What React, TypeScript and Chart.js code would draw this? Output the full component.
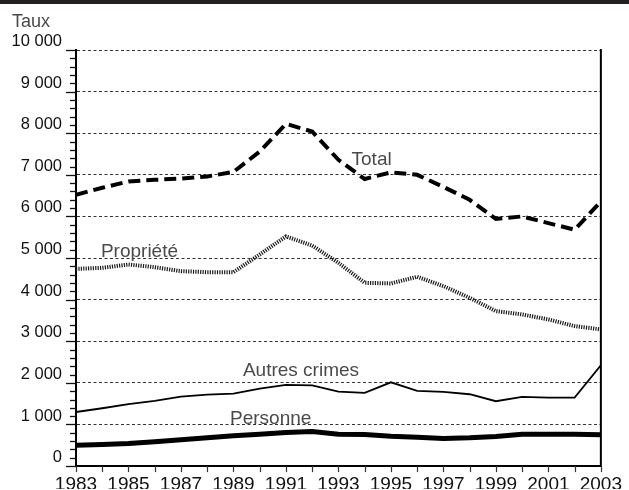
import React, { useEffect, useRef } from "react";
import { Chart, registerables } from "chart.js";

Chart.register(...registerables);

// ---------- data ----------
const years = [1983, 1984, 1985, 1986, 1987, 1988, 1989, 1990, 1991, 1992, 1993, 1994, 1995, 1996, 1997, 1998, 1999, 2000, 2001, 2002, 2003];
const totalValues = [6520, 6690, 6840, 6880, 6910, 6960, 7070, 7560, 8225, 8040, 7360, 6900, 7060, 7000, 6710, 6400, 5940, 6000, 5840, 5680, 6360];
const proprieteValues = [4740, 4765, 4845, 4780, 4685, 4660, 4660, 5085, 5520, 5300, 4885, 4405, 4390, 4550, 4325, 4045, 3725, 3645, 3525, 3365, 3285];
const autresValues = [1300, 1390, 1487, 1566, 1671, 1719, 1743, 1863, 1950, 1942, 1791, 1759, 2014, 1807, 1783, 1727, 1559, 1663, 1647, 1647, 2422];
const personneValues = [504, 520, 544, 585, 631, 680, 727, 765, 808, 832, 767, 760, 719, 695, 664, 679, 712, 767, 767, 767, 751];

const seriesNames = ["Total", "Propriété", "Autres crimes", "Personne"];
const labelYears = [1993.5, 1983.95, 1989.36, 1988.87];
const labelValues = [7242, 5036, 2165, 1007];

const axisTitle = "Taux";
const yMin = 0;
const yMax = 10000;
const yMajorStep = 1000;
const yMinorStep = 200;
const xLabelStep = 2;

function formatRate(v: number): string {
  if (v < 1000) return String(v);
  const th = Math.floor(v / 1000);
  const rest = String(v % 1000).padStart(3, "0");
  return th + " " + rest;
}

const toPoints = (vals: number[]) => years.map((yr, i) => ({ x: yr, y: vals[i] }));

const decorPlugin = {
  id: "decor",
  afterDraw(chart: any) {
    const { ctx, chartArea: a, scales } = chart;
    const xs = scales.x;
    const ys = scales.y;
    ctx.save();
    // top black band
    ctx.fillStyle = "#231f20";
    ctx.fillRect(0, 0, chart.width, 4);

    // right frame line
    ctx.strokeStyle = "#000";
    ctx.lineWidth = 2;
    ctx.beginPath();
    ctx.moveTo(a.right, a.top - 1);
    ctx.lineTo(a.right, a.bottom + 1);
    ctx.stroke();

    // y tick marks
    ctx.lineWidth = 1.3;
    ctx.strokeStyle = "#111";
    for (let v = yMin; v <= yMax; v += yMinorStep) {
      const py = Math.round(ys.getPixelForValue(v)) + 0.5;
      const len = v % yMajorStep === 0 ? 10 : 6;
      ctx.beginPath();
      ctx.moveTo(a.left - len, py);
      ctx.lineTo(a.left, py);
      ctx.stroke();
    }
    // x tick marks
    ctx.lineWidth = 1.2;
    ctx.strokeStyle = "#333";
    for (const yr of years) {
      const px = Math.round(xs.getPixelForValue(yr)) + 0.5;
      ctx.beginPath();
      ctx.moveTo(px, a.bottom);
      ctx.lineTo(px, a.bottom + 6);
      ctx.stroke();
    }

    // axis title
    ctx.fillStyle = "#4a4a4a";
    ctx.font = '18px Arial, "Liberation Sans", sans-serif';
    ctx.textAlign = "left";
    ctx.textBaseline = "alphabetic";
    ctx.fillText(axisTitle, 12, 27);

    // series labels
    ctx.font = '19px Arial, "Liberation Sans", sans-serif';
    ctx.fillStyle = "#4a4a4a";
    seriesNames.forEach((name, i) => {
      const px = xs.getPixelForValue(labelYears[i]);
      const py = ys.getPixelForValue(labelValues[i]);
      ctx.fillText(name, px, py);
    });
    ctx.restore();
  },
};

export default function App() {
  const canvasRef = useRef<HTMLCanvasElement | null>(null);

  useEffect(() => {
    const canvas = canvasRef.current;
    if (!canvas) return;
    const chart = new Chart(canvas, {
      type: "line",
      data: {
        datasets: [
          {
            label: seriesNames[0],
            data: toPoints(totalValues),
            borderColor: "#000",
            borderWidth: 4,
            borderDash: [12, 6],
            borderCapStyle: "butt",
            pointRadius: 0,
            tension: 0,
            fill: false,
          },
          {
            label: seriesNames[1],
            data: toPoints(proprieteValues),
            borderColor: "#1a1a1a",
            borderWidth: 4,
            borderDash: [1.2, 1.2],
            borderCapStyle: "butt",
            pointRadius: 0,
            tension: 0,
            fill: false,
          },
          {
            label: seriesNames[2],
            data: toPoints(autresValues),
            borderColor: "#000",
            borderWidth: 1.8,
            pointRadius: 0,
            tension: 0,
            fill: false,
          },
          {
            label: seriesNames[3],
            data: toPoints(personneValues),
            borderColor: "#000",
            borderWidth: 5,
            pointRadius: 0,
            tension: 0,
            fill: false,
          },
        ],
      },
      plugins: [decorPlugin],
      options: {
        responsive: false,
        animation: false,
        events: [],
        layout: { padding: { top: 50, right: 25, left: 0, bottom: 0 } },
        plugins: {
          legend: { display: false },
          tooltip: { enabled: false },
        },
        scales: {
          x: {
            type: "linear",
            min: years[0],
            max: years[years.length - 1],
            afterFit: (s: any) => {
              s.height = 23;
            },
            grid: { display: false, drawTicks: false },
            border: { display: true, color: "#000", width: 2 },
            ticks: {
              stepSize: 1,
              autoSkip: false,
              maxRotation: 0,
              padding: 7,
              color: "#111",
              font: { family: '"Liberation Sans Narrow", "Arial Narrow", Arial, sans-serif', size: 19 },
              callback: (v: any) => ((Number(v) - years[0]) % xLabelStep === 0 ? String(v) : null),
            },
          },
          y: {
            type: "linear",
            min: yMin,
            max: yMax,
            afterFit: (s: any) => {
              s.width = 76;
            },
            grid: {
              drawTicks: false,
              color: "#333",
              lineWidth: 1,
            },
            border: { display: true, color: "#000", width: 2, dash: [3, 2.5] },
            ticks: {
              stepSize: yMajorStep,
              padding: 14,
              labelOffset: -8.5,
              color: "#111",
              font: { family: 'Arial, "Liberation Sans", sans-serif', size: 16.5 },
              callback: (v: any) => formatRate(Number(v)),
            },
          },
        },
      },
    });
    return () => chart.destroy();
  }, []);

  return (
    <div style={{ position: "fixed", left: 0, top: 0, width: 629, height: 490, background: "#fff" }}>
      <canvas ref={canvasRef} width={629} height={490} style={{ display: "block", width: 629, height: 490 }} />
    </div>
  );
}
